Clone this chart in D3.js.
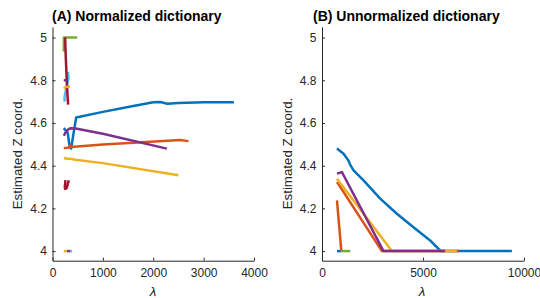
<!DOCTYPE html>
<html><head><meta charset="utf-8">
<script src="https://cdn.jsdelivr.net/npm/d3@7"></script>
<style>body{margin:0;background:#fff}svg{display:block}</style>
</head><body>
<svg id="c" width="540" height="298"></svg>
<script>
// ---- labels & ticks ----
const titles = ["(A) Normalized dictionary", "(B) Unnormalized dictionary"];
const yLabel = "Estimated Z coord.";
const xLabel = "λ";
const yTicks = [4, 4.2, 4.4, 4.6, 4.8, 5];
const yTickLabels = ["4", "4.2", "4.4", "4.6", "4.8", "5"];
const xTicksA = [0, 1000, 2000, 3000, 4000];
const xTicksB = [0, 5000, 10000];

// ---- panel A series ([lambda, z]) ----
const aBlue = [[222,4.576],[300,4.556],[340,4.49],[370,4.48],[410,4.54],[470,4.626],[1000,4.652],[1500,4.675],[2000,4.697],[2140,4.698],[2280,4.690],[2500,4.694],[3000,4.697],[3600,4.697]];
const aOrange = [[224,4.483],[300,4.484],[330,4.487],[350,4.495],[370,4.487],[1000,4.499],[1950,4.512],[2530,4.520],[2700,4.515]];
const aYellow = [[230,4.432],[260,4.436],[300,4.431],[340,4.433],[450,4.428],[1000,4.412],[2500,4.355]];
const aPurple = [[224,4.540],[250,4.552],[290,4.566],[350,4.575],[460,4.574],[1000,4.550],[2270,4.480]];
const aGreen = [[224,4.935],[226,5.0],[240,5.0],[490,5.0]];
const aLightBlue = [[310,4.84],[318,4.81],[290,4.78],[262,4.75],[238,4.72],[242,4.70]];
const aRed = [[250,5.0],[265,4.9],[285,4.79],[300,4.72],[311,4.686]];
const aPurpleSmall = [[224,4.80],[290,4.80]];
const aYellowSmall = [[224,4.762],[260,4.768],[300,4.770],[350,4.772]];
const aRedSmall = [[257,4.332],[245,4.30],[250,4.291],[280,4.295],[300,4.31],[323,4.332]];
const aYellowLow = [[224,4.0],[290,4.0]];
const aPurpleLow = [[290,4.0],[356,4.0]];
const aLightBlueLow = [[356,4.0],[390,4.0]];

// ---- panel B series ----
const bBlue = [[741,4.480],[1068,4.456],[1300,4.425],[1420,4.400],[1562,4.378],[2056,4.331],[2882,4.246],[3707,4.175],[4528,4.112],[5353,4.050],[5764,4.011],[5900,4.0],[9400,4.0]];
const bOrange = [[741,4.323],[906,4.300],[2966,4.0],[6787,4.0]];
const bYellow = [[741,4.339],[3460,4.0],[6673,4.0]];
const bPurple = [[741,4.363],[988,4.370],[1068,4.355],[3045,4.0],[6095,4.0]];
const bGreen = [[939,4.0],[1400,4.0]];
const bBlueLow = [[741,4.0],[939,4.0]];
const bOrangeTall = [[741,4.238],[954,4.003]];

const C = {blue:"#0072BD", orange:"#D95319", yellow:"#EDB120", purple:"#7E2F8E",
           green:"#77AC30", lightblue:"#4DBEEE", red:"#A2142F"};

const panels = [
  {title: titles[0], xDomain:[0,4000], xTicks:xTicksA, x0:52.5, x1:254, titleX:52, ylabX:21.5, lamX:153,
   series:[[aBlue,C.blue],[aOrange,C.orange],[aYellow,C.yellow],[aPurple,C.purple],[aGreen,C.green],
           [aLightBlue,C.lightblue],[aRed,C.red],[aPurpleSmall,C.purple],[aYellowSmall,C.yellow],
           [aRedSmall,C.red],[aYellowLow,C.yellow],[aPurpleLow,C.purple],[aLightBlueLow,C.lightblue]]},
  {title: titles[1], xDomain:[0,10000], xTicks:xTicksB, x0:322, x1:524, titleX:313, ylabX:291.5, lamX:422,
   series:[[bBlue,C.blue],[bOrange,C.orange],[bYellow,C.yellow],[bPurple,C.purple],[bGreen,C.green],
           [bBlueLow,C.blue],[bOrangeTall,C.orange]]}
];

const svg = d3.select("#c");
const font = "'Liberation Sans', Arial, Helvetica, sans-serif";
const ink = "#262626";

panels.forEach(p => {
  const x = d3.scaleLinear().domain(p.xDomain).range([p.x0, p.x1]);
  const y = d3.scaleLinear().domain([3.955, 5.05]).range([260.7, 26.9]);
  const g = svg.append("g");

  const line = d3.line().x(d => x(d[0])).y(d => y(d[1]));
  p.series.forEach(([pts, col]) => {
    g.append("path").attr("d", line(pts)).attr("fill","none")
      .attr("stroke", col).attr("stroke-width", 2.5)
      .attr("stroke-linejoin","round").attr("stroke-linecap","butt");
  });

  const xa = g.append("g").attr("transform", `translate(0,${y.range()[0]})`)
    .call(d3.axisBottom(x).tickValues(p.xTicks).tickFormat(d3.format("d"))
      .tickSizeInner(-3).tickSizeOuter(0).tickPadding(7.5));
  const ya = g.append("g").attr("transform", `translate(${p.x0},0)`)
    .call(d3.axisLeft(y).tickValues(yTicks).tickFormat((d,i) => yTickLabels[i])
      .tickSizeInner(-3).tickSizeOuter(0).tickPadding(5.5));
  [xa, ya].forEach(a => {
    a.selectAll("path,line").attr("stroke", ink).attr("stroke-width", 1);
    a.selectAll("text").attr("fill", ink).style("font-family", font).style("font-size","12px");
  });

  g.append("text").attr("x", p.titleX).attr("y", 20.5).text(p.title)
    .style("font-family", font).style("font-size","14px").style("font-weight","bold").attr("fill","#000");

  g.append("text").attr("transform", `translate(${p.ylabX},153.5) rotate(-90)`)
    .attr("text-anchor","middle").text(yLabel)
    .style("font-family", font).style("font-size","13.3px").attr("fill", ink);

  g.append("text").attr("x", p.lamX).attr("y", 296).attr("text-anchor","middle").text(xLabel)
    .style("font-family", font).style("font-size","13.3px").style("font-style","italic").attr("fill", ink);
});
</script>
</body></html>
